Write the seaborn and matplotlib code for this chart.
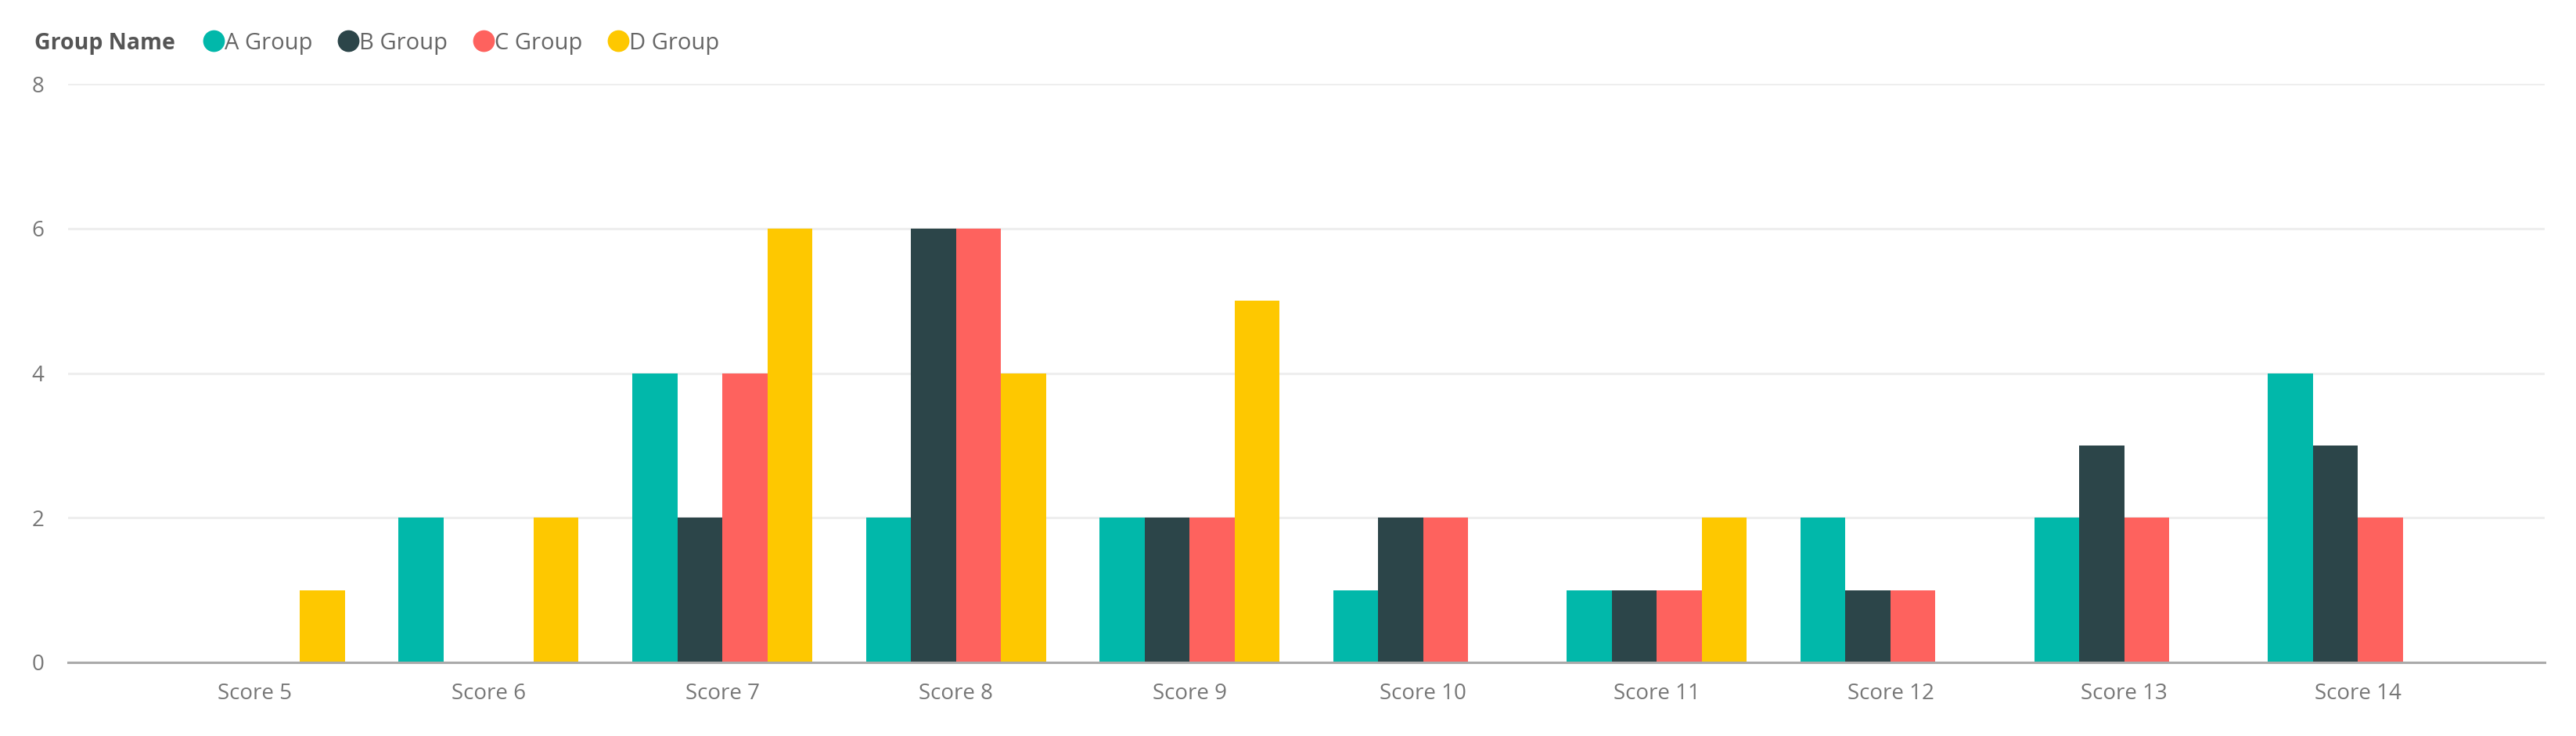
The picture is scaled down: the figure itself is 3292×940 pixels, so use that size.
import matplotlib
matplotlib.use("Agg")
import matplotlib.pyplot as plt
from matplotlib.lines import Line2D
import pandas as pd
import seaborn as sns

scores = ["Score 5", "Score 6", "Score 7", "Score 8", "Score 9",
          "Score 10", "Score 11", "Score 12", "Score 13", "Score 14"]
groups = ["A Group", "B Group", "C Group", "D Group"]
a_group = [0, 2, 4, 2, 2, 1, 1, 2, 2, 4]
b_group = [0, 0, 2, 6, 2, 2, 1, 1, 3, 3]
c_group = [0, 0, 4, 6, 2, 2, 1, 1, 2, 2]
d_group = [1, 2, 6, 4, 5, 0, 2, 0, 0, 0]
colors = ["#01B8AA", "#2C4549", "#FE625E", "#FEC800"]

rows = []
for g, vals in zip(groups, [a_group, b_group, c_group, d_group]):
    for s, v in zip(scores, vals):
        rows.append({"Score": s, "Group Name": g, "Count": v})
df = pd.DataFrame(rows)

sns.set_style("white")
plt.rcParams["font.family"] = ["Open Sans", "DejaVu Sans"]

fig = plt.figure(figsize=(32.92, 9.4), dpi=100)
ax = fig.add_axes([87 / 3292, 0.1, (3252 - 87) / 3292, (846 - 107) / 940])

sns.barplot(data=df, x="Score", y="Count", hue="Group Name", order=scores,
            hue_order=groups, palette=colors, width=0.77, gap=0,
            saturation=1, linewidth=0, ax=ax, legend=False)

ax.set_ylim(0, 8)
ax.set_xlim(-0.8, 9.8)
ax.set_yticks([0, 2, 4, 6, 8])
ax.set_xlabel("")
ax.set_ylabel("")
ax.yaxis.grid(True, color="#EEEEEE", linewidth=2.2)
ax.set_axisbelow(True)
for side in ["top", "right", "left"]:
    ax.spines[side].set_visible(False)
ax.spines["bottom"].set_color("#AAAAAA")
ax.spines["bottom"].set_linewidth(2.2)
ax.tick_params(axis="x", length=0, pad=19, labelsize=20, labelcolor="#777777")
ax.tick_params(axis="y", length=0, pad=22, labelsize=20, labelcolor="#777777")

fig.text(44 / 3292, 1 - 55 / 940, "Group Name", fontsize=20.5, fontweight="bold",
         color="#555555", va="center", ha="left")
handles = [Line2D([0], [0], marker="o", linestyle="", markersize=19,
                  markerfacecolor=c, markeredgecolor=c) for c in colors]
fig.legend(handles, groups, loc="center left", ncol=4,
           bbox_to_anchor=(258 / 3292, 1 - 55 / 940), frameon=False,
           fontsize=21, labelcolor="#666666", handletextpad=0.0,
           columnspacing=1.05, handlelength=1.0, borderaxespad=0, borderpad=0)

fig.savefig("out.png", dpi=100)
